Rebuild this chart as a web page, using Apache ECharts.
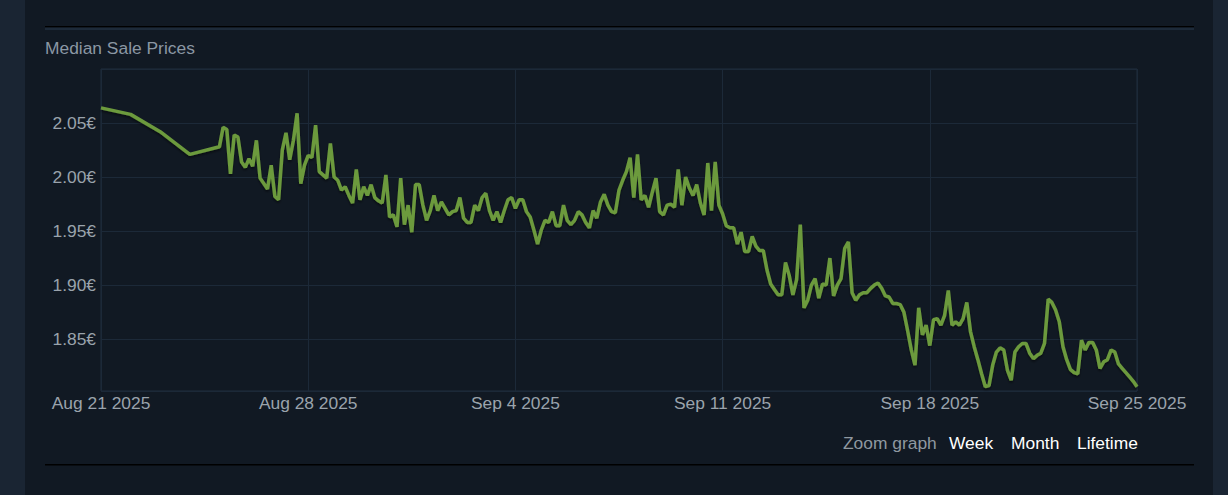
<!DOCTYPE html>
<html>
<head>
<meta charset="utf-8">
<title>Median Sale Prices</title>
<script src="https://cdn.jsdelivr.net/npm/echarts@6.0.0/dist/echarts.min.js"></script>
<style>
  html, body { margin: 0; padding: 0; background: #1a2533; }
  #main { width: 1228px; height: 495px; }
</style>
</head>
<body>
<div id="main"></div>
<script>
// x 轴用“距 Aug 21 的天数”，每 7 天一个刻度
var tickLabels = ['Aug 21 2025', 'Aug 28 2025', 'Sep 4 2025', 'Sep 11 2025', 'Sep 18 2025', 'Sep 25 2025'];

// Aug 21 - Aug 24: 每天一个点
var dailyPrices = [2.064, 2.058, 2.042, 2.021];

// Aug 25 起每 3 小时一个点 (每天 8 个)
var stepHours = 3;
var hourlyStartDay = 4;
var weekAug25 = [
    2.028, 2.046, 2.044, 2.003, 2.039, 2.037, 2.014, 2.009,
    2.017, 2.010, 2.034, 1.999, 1.994, 1.989, 2.011, 1.982,
    1.979, 2.025, 2.041, 2.016, 2.034, 2.059, 1.994, 2.011,
    2.020, 2.018, 2.048, 2.005, 2.002, 1.999, 2.031, 2.000,
    1.997, 1.988, 1.991, 1.983, 1.976, 2.007, 1.979, 1.991,
    1.983, 1.993, 1.981, 1.978, 1.976, 2.002, 1.963, 1.965,
    1.954, 1.999, 1.956, 1.974, 1.949, 1.993, 1.993, 1.974
];
var weekSep1 = [
    1.960, 1.969, 1.983, 1.969, 1.977, 1.971, 1.965, 1.968,
    1.969, 1.981, 1.962, 1.958, 1.958, 1.974, 1.969, 1.981,
    1.985, 1.969, 1.960, 1.968, 1.958, 1.969, 1.979, 1.981,
    1.971, 1.979, 1.979, 1.968, 1.963, 1.951, 1.938, 1.951,
    1.960, 1.958, 1.968, 1.955, 1.955, 1.974, 1.960, 1.956,
    1.960, 1.968, 1.965, 1.958, 1.953, 1.969, 1.962, 1.977,
    1.984, 1.974, 1.968, 1.967, 1.988, 1.997, 2.005, 2.018
];
var weekSep8 = [
    1.981, 2.021, 1.979, 1.983, 1.972, 1.986, 1.999, 1.968,
    1.965, 1.974, 1.975, 1.972, 2.007, 1.974, 2.000, 1.990,
    1.983, 1.993, 1.976, 1.965, 2.013, 1.969, 2.014, 1.974,
    1.966, 1.955, 1.953, 1.953, 1.938, 1.949, 1.931, 1.931,
    1.945, 1.936, 1.932, 1.932, 1.914, 1.901, 1.896, 1.891,
    1.891, 1.921, 1.909, 1.891, 1.905, 1.956, 1.879, 1.886,
    1.900, 1.906, 1.888, 1.901, 1.900, 1.925, 1.890, 1.900
];
var weekSep15 = [
    1.906, 1.934, 1.940, 1.893, 1.886, 1.891, 1.893, 1.893,
    1.897, 1.900, 1.902, 1.897, 1.890, 1.889, 1.883, 1.883,
    1.882, 1.875, 1.858, 1.840, 1.826, 1.879, 1.854, 1.863,
    1.844, 1.868, 1.869, 1.863, 1.872, 1.895, 1.863, 1.866,
    1.863, 1.869, 1.884, 1.857, 1.843, 1.831, 1.818, 1.806,
    1.807, 1.826, 1.838, 1.842, 1.840, 1.821, 1.812, 1.838,
    1.843, 1.846, 1.846, 1.837, 1.832, 1.835, 1.837, 1.846
];
var weekSep22 = [
    1.887, 1.884, 1.877, 1.866, 1.843, 1.831, 1.822, 1.819,
    1.818, 1.849, 1.840, 1.847, 1.847, 1.840, 1.823, 1.829,
    1.831, 1.840, 1.838, 1.827, 1.823, 1.819, 1.815, 1.811,
    1.806
];

// 组装 [天数, 价格]
var seriesData = [];
for (var i = 0; i < dailyPrices.length; i++) {
    seriesData.push([i, dailyPrices[i]]);
}
var hourlyPrices = weekAug25.concat(weekSep1, weekSep8, weekSep15, weekSep22);
for (var j = 0; j < hourlyPrices.length; j++) {
    seriesData.push([hourlyStartDay + j * stepHours / 24, hourlyPrices[j]]);
}

var myChart = echarts.init(document.getElementById('main'), null, { renderer: 'svg' });

var gridColor = '#1c2938';
var labelColor = '#9aa3ac';
var font = '17.4px "Liberation Sans", Arial, sans-serif';

var option = {
    animation: false,
    backgroundColor: 'transparent',
    textStyle: {
        fontFamily: 'Liberation Sans, Arial, sans-serif'
    },
    graphic: [
        // 中间的深色面板
        { type: 'rect', z: -10, shape: { x: 25, y: 0, width: 1188, height: 495 }, style: { fill: '#111923' } },
        // 上下分隔线
        { type: 'rect', z: -5, shape: { x: 45, y: 26, width: 1149, height: 1 }, style: { fill: '#000000' } },
        { type: 'rect', z: -5, shape: { x: 45, y: 28, width: 1149, height: 2 }, style: { fill: '#1d2a39' } },
        { type: 'rect', z: -5, shape: { x: 45, y: 464, width: 1149, height: 1.5 }, style: { fill: '#000000' } },
        { type: 'text', left: 45, top: 39, style: { text: 'Median Sale Prices', fill: '#8b97a3', font: font } },
        { type: 'text', left: 843, top: 434, style: { text: 'Zoom graph', fill: '#8f98a0', font: font } },
        { type: 'text', left: 949, top: 434, style: { text: 'Week', fill: '#ffffff', font: font } },
        { type: 'text', left: 1011, top: 434, style: { text: 'Month', fill: '#ffffff', font: font } },
        { type: 'text', left: 1077, top: 434, style: { text: 'Lifetime', fill: '#ffffff', font: font } }
    ],
    grid: {
        left: 101,
        top: 69,
        width: 1036,
        height: 322,
        show: true,
        borderColor: '#212f3f',
        borderWidth: 1,
        backgroundColor: 'transparent'
    },
    xAxis: {
        type: 'value',
        min: 0,
        max: 35,
        interval: 7,
        axisLine: { show: false },
        axisTick: { show: false },
        splitLine: { show: true, lineStyle: { color: gridColor, width: 1 } },
        axisLabel: {
            color: labelColor,
            fontSize: 17.4,
            margin: 3,
            formatter: function (v) {
                return tickLabels[Math.round(v / 7)];
            }
        }
    },
    yAxis: {
        type: 'value',
        min: 1.802,
        max: 2.10,
        splitNumber: 6,
        axisLine: { show: false },
        axisTick: { show: false },
        splitLine: { show: true, lineStyle: { color: gridColor, width: 1 } },
        axisLabel: {
            color: labelColor,
            fontSize: 17.4,
            margin: 5,
            showMinLabel: false,
            showMaxLabel: false,
            formatter: function (v) {
                return v.toFixed(2) + '€';
            }
        }
    },
    series: [{
        name: 'Median Sale Prices',
        type: 'line',
        showSymbol: false,
        data: seriesData,
        lineStyle: {
            color: '#6c9a3d',
            width: 3.5,
            shadowColor: 'rgba(0,0,0,0.45)',
            shadowBlur: 2,
            shadowOffsetY: 2
        }
    }]
};
myChart.setOption(option);
</script>
</body>
</html>
